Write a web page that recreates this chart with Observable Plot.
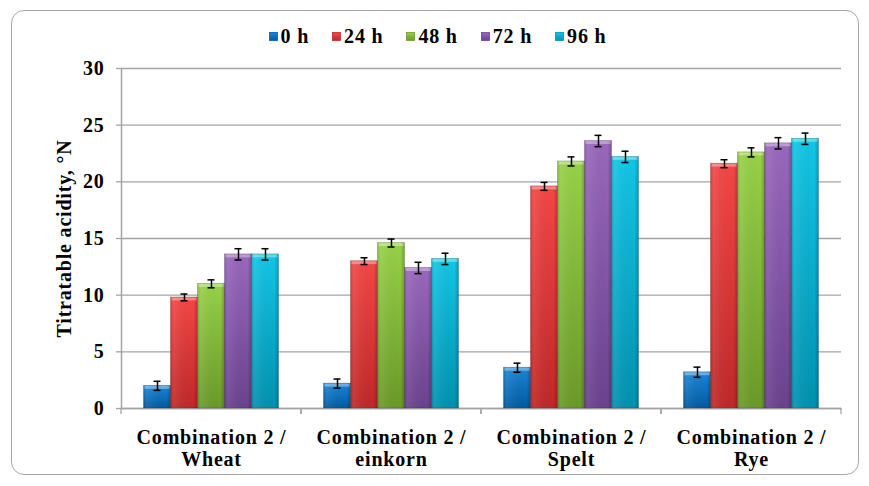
<!DOCTYPE html>
<html>
<head>
<meta charset="utf-8">
<script src="https://cdn.jsdelivr.net/npm/d3@7"></script>
<script src="https://cdn.jsdelivr.net/npm/@observablehq/plot@0.6"></script>
<style>
  body { margin: 0; background: #fff; }
  #wrap { position: relative; width: 869px; height: 486px; overflow: hidden;
          font-family: "Liberation Serif", "Times New Roman", serif; }
  #frame { position: absolute; left: 11px; top: 10px; width: 846px; height: 463px;
           border: 1.5px solid #a6a6a6; border-radius: 13px; pointer-events: none; }
  #legend { height: 50px; box-sizing: border-box; padding-top: 22px; padding-left: 6px;
            display: flex; justify-content: center; align-items: center; gap: 23px;
            font-weight: bold; font-size: 20px; line-height: 20px; letter-spacing: 0.8px; }
  .item { display: flex; align-items: center; gap: 3px; }
  .item svg { display: block; }
  #chart svg { display: block; }
</style>
</head>
<body>
<svg width="0" height="0" style="position:absolute">
  <defs id="defs"></defs>
</svg>
<div id="wrap">
  <div id="legend"></div>
  <div id="chart"></div>
  <div id="frame"></div>
</div>
<script>
// ---- data ----
const categories = ["Combination 2 /\nWheat", "Combination 2 /\neinkorn", "Combination 2 /\nSpelt", "Combination 2 /\nRye"];
const series = ["0 h", "24 h", "48 h", "72 h", "96 h"];
const values0h  = [2.0, 2.2, 3.6, 3.2];
const values24h = [9.8, 13.0, 19.6, 21.6];
const values48h = [11.0, 14.6, 21.8, 22.6];
const values72h = [13.6, 12.4, 23.6, 23.4];
const values96h = [13.6, 13.2, 22.2, 23.8];
const err0h  = [0.4, 0.4, 0.4, 0.45];
const err24h = [0.3, 0.3, 0.35, 0.35];
const err48h = [0.35, 0.35, 0.4, 0.4];
const err72h = [0.5, 0.5, 0.5, 0.5];
const err96h = [0.5, 0.5, 0.5, 0.5];
const yTicks = [0, 5, 10, 15, 20, 25, 30];
const colorsLight = ["#1c86d6", "#f44646", "#98d248", "#9a68bd", "#12c6e6"];
const colorsDark  = ["#005ba2", "#c02828", "#6a9a28", "#6a428e", "#0092b0"];

const valueSets = [values0h, values24h, values48h, values72h, values96h];
const errSets = [err0h, err24h, err48h, err72h, err96h];
const rows = categories.flatMap((c, i) => series.map((s, j) => ({
  category: c, series: s, value: valueSets[j][i], err: errSets[j][i]
})));

// ---- gradients ----
const defs = d3.select("#defs");
series.forEach((s, i) => {
  const g = defs.append("linearGradient").attr("id", "g" + i)
    .attr("x1", 0).attr("y1", 0).attr("x2", 0).attr("y2", 1);
  g.append("stop").attr("offset", "0%").attr("stop-color", colorsLight[i]);
  g.append("stop").attr("offset", "100%").attr("stop-color", colorsDark[i]);
  const h = defs.append("linearGradient").attr("id", "h" + i)
    .attr("x1", 0).attr("y1", 0).attr("x2", 1).attr("y2", 0);
  h.append("stop").attr("offset", "0%").attr("stop-color", "#000").attr("stop-opacity", 0.12);
  h.append("stop").attr("offset", "12%").attr("stop-color", "#fff").attr("stop-opacity", 0.08);
  h.append("stop").attr("offset", "85%").attr("stop-color", "#000").attr("stop-opacity", 0);
  h.append("stop").attr("offset", "100%").attr("stop-color", "#000").attr("stop-opacity", 0.22);
});

// ---- legend ----
const legend = d3.select("#legend");
series.forEach((s, i) => {
  const it = legend.append("div").attr("class", "item");
  const sv = it.append("svg").attr("width", 9).attr("height", 9);
  sv.append("rect").attr("x", 0.5).attr("y", 0.5).attr("width", 8).attr("height", 8)
    .attr("fill", `url(#g${i})`).attr("stroke", colorsDark[i]).attr("stroke-width", 0.8);
  it.append("span").text(s);
});

// ---- chart ----
const chart = Plot.plot({
  width: 869,
  height: 436,
  marginTop: 18,
  marginBottom: 78,
  marginLeft: 120.5,
  marginRight: 27,
  style: {fontFamily: "'Liberation Serif', 'Times New Roman', serif", fontWeight: "bold",
          fontSize: "20px", color: "#000", background: "transparent", letterSpacing: "0.8px"},
  fx: {domain: categories, padding: 0},
  x: {domain: series, paddingInner: 0, paddingOuter: 0.76, axis: null},
  y: {domain: [0, 30]},
  color: {domain: series, range: series.map((s, i) => `url(#g${i})`)},
  marks: [
    Plot.gridY(yTicks, {stroke: "#a3a3a3", strokeOpacity: 1, strokeWidth: 1.3}),
    Plot.axisY(yTicks, {tickSize: 5, tickPadding: 12, stroke: "#a3a3a3", strokeWidth: 1.3,
      label: "Titratable acidity, °N", labelAnchor: "center", labelOffset: 65, labelArrow: "none"}),
    Plot.frame({anchor: "left", facetAnchor: "left", stroke: "#a3a3a3", strokeWidth: 1.5}),
    Plot.ruleY([0], {stroke: "#a3a3a3", strokeWidth: 1.5}),
    (index, scales, values, dims) => {
      const g = d3.create("svg:g").attr("stroke", "#a3a3a3").attr("stroke-width", 1.3);
      const y0 = scales.y(0);
      [dims.marginLeft, dims.width - dims.marginRight].forEach(x =>
        g.append("line").attr("x1", x).attr("x2", x).attr("y1", y0).attr("y2", y0 + 6));
      return g.node();
    },
    Plot.barY(rows, {fx: "category", x: "series", y: "value", fill: "series",
      stroke: "#000", strokeOpacity: 0.22, strokeWidth: 0.8}),
    Plot.barY(rows, {fx: "category", x: "series", y: "value",
      fill: d => "url(#h" + series.indexOf(d.series) + ")"}),
    Plot.tickY(rows, {fx: "category", x: "series", y: "value", stroke: "#fff",
      strokeOpacity: 0.35, strokeWidth: 3, dy: 1.5, insetLeft: 1, insetRight: 1}),
    Plot.ruleX(rows, {fx: "category", x: "series", y1: d => d.value - d.err, y2: d => d.value + d.err,
      stroke: "#000", strokeWidth: 1.5}),
    Plot.tickY(rows, {fx: "category", x: "series", y: d => d.value + d.err,
      stroke: "#000", strokeWidth: 1.5, insetLeft: 10, insetRight: 10}),
    Plot.tickY(rows, {fx: "category", x: "series", y: d => d.value - d.err,
      stroke: "#000", strokeWidth: 1.5, insetLeft: 10, insetRight: 10}),
    Plot.axisFx({anchor: "bottom", tickSize: 0, tickPadding: 19.5, label: null, lineHeight: 1.1})
  ]
});
document.getElementById("chart").appendChild(chart);
</script>
</body>
</html>
